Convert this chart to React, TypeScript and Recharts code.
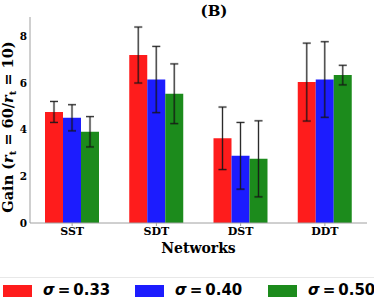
import React from "react";
import {
  BarChart,
  Bar,
  XAxis,
  YAxis,
  ErrorBar,
  Label,
} from "recharts";

const networks = ["SST", "SDT", "DST", "DDT"];
const gain033 = [4.76, 7.2, 3.63, 6.04];
const err033 = [0.45, 1.2, 1.34, 1.67];
const gain040 = [4.51, 6.15, 2.88, 6.15];
const err040 = [0.56, 1.42, 1.43, 1.62];
const gain050 = [3.91, 5.54, 2.75, 6.34];
const err050 = [0.65, 1.28, 1.63, 0.42];
const yTicks = [0, 2, 4, 6, 8];

const series = [
  { key: "s033", err: "e033", sigma: "0.33", color: "#fe1c1c" },
  { key: "s040", err: "e040", sigma: "0.40", color: "#1c1cfe" },
  { key: "s050", err: "e050", sigma: "0.50", color: "#1c8b1c" },
];

const data = networks.map((name, i) => ({
  name,
  s033: gain033[i],
  e033: err033[i],
  s040: gain040[i],
  e040: err040[i],
  s050: gain050[i],
  e050: err050[i],
}));

const serif = "'DejaVu Serif', serif";
const sans = "'DejaVu Sans', sans-serif";
const frame = "#a0a0a0";

// legend drawn below the chart, matplotlib style
function LegendBox() {
  const xs = [3, 135, 268];
  return (
    <div style={{ position: "absolute", left: 0, top: 277, width: 374, height: 23, borderTop: "1px solid #e8e8e8" }}>
      {series.map((s, i) => (
        <div key={s.key}>
          <div
            style={{
              position: "absolute",
              left: xs[i],
              top: 7,
              width: 29,
              height: 12,
              background: s.color,
            }}
          />
          <div
            style={{
              position: "absolute",
              left: xs[i] + 40,
              top: 3,
              fontFamily: sans,
              fontWeight: "bold",
              fontSize: 15,
              lineHeight: "18px",
              whiteSpace: "nowrap",
            }}
          >
            <span style={{ fontStyle: "italic" }}>σ</span>{"\u2009=\u2009"}{s.sigma}
          </div>
        </div>
      ))}
    </div>
  );
}

export default function App() {
  return (
    <div style={{ position: "absolute", left: 0, top: 0, width: 374, height: 300, background: "#fff", overflow: "hidden" }}>
      <BarChart
        width={374}
        height={300}
        data={data}
        margin={{ top: 17, right: 7, left: 0, bottom: 47 }}
        barGap={0}
        barSize={18}
      >
        <text x={214} y={16} textAnchor="middle" fontFamily={serif} fontWeight="bold" fontSize={15}>
          (B)
        </text>
        <text
          transform="translate(13, 127) rotate(-90)"
          textAnchor="middle"
          fontFamily={serif}
          fontWeight="bold"
          fontSize={14.5}
          fill="#000"
        >
          Gain (<tspan fontStyle="italic">r</tspan>
          <tspan fontSize={10} dy={3}>t</tspan>
          <tspan dy={-3}> = 60/</tspan>
          <tspan fontStyle="italic">r</tspan>
          <tspan fontSize={10} dy={3}>t</tspan>
          <tspan dy={-3}> = 10)</tspan>
        </text>
        <XAxis
          dataKey="name"
          height={30}
          stroke={frame}
          tickSize={3}
          tick={{ fill: "#000", fontFamily: serif, fontWeight: "bold", fontSize: 11 }}
          tickMargin={1}
        >
          <Label
            value="Networks"
            position="insideBottom"
            offset={0}
            style={{ fill: "#000", fontFamily: serif, fontWeight: "bold", fontSize: 14 }}
          />
        </XAxis>
        <XAxis xAxisId="top" orientation="top" dataKey="name" height={0} tick={false} tickLine={false} stroke={frame} />
        <YAxis
          width={30}
          domain={[0, 8.83]}
          ticks={yTicks}
          stroke={frame}
          tickLine={false}
          tickSize={0}
          tickMargin={3}
          tick={{ fill: "#000", fontFamily: serif, fontWeight: "bold", fontSize: 10.5 }}
        />
        <YAxis yAxisId="right" orientation="right" width={0} domain={[0, 1]} tick={false} tickLine={false} stroke={frame} />
        {series.map((s) => (
          <Bar key={s.key} dataKey={s.key} fill={s.color} isAnimationActive={false}>
            <ErrorBar dataKey={s.err} width={4} stroke="rgba(0,0,0,0.22)" strokeWidth={2.4} />
            <ErrorBar dataKey={s.err} width={4} stroke="#1a1a1a" strokeWidth={0.9} />
          </Bar>
        ))}
      </BarChart>
      <LegendBox />
    </div>
  );
}
